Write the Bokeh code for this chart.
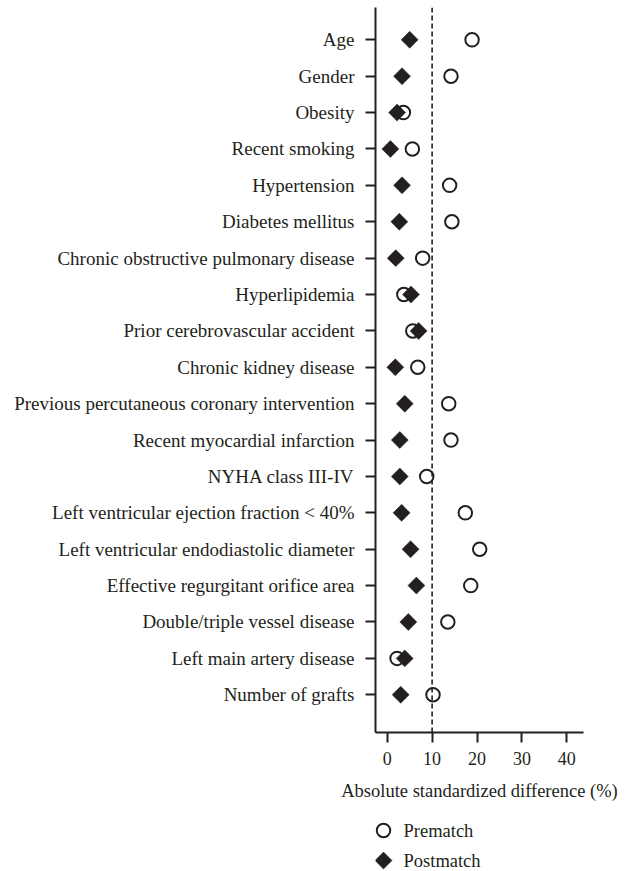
import numpy as np
from bokeh.plotting import figure
from bokeh.layouts import column
from bokeh.models import Range1d, FixedTicker, Span
from bokeh.core.properties import value
from bokeh.embed import file_html
from bokeh.resources import INLINE

# Covariates, top to bottom
covariates = [
    "Age",
    "Gender",
    "Obesity",
    "Recent smoking",
    "Hypertension",
    "Diabetes mellitus",
    "Chronic obstructive pulmonary disease",
    "Hyperlipidemia",
    "Prior cerebrovascular accident",
    "Chronic kidney disease",
    "Previous percutaneous coronary intervention",
    "Recent myocardial infarction",
    "NYHA class III-IV",
    "Left ventricular ejection fraction < 40%",
    "Left ventricular endodiastolic diameter",
    "Effective regurgitant orifice area",
    "Double/triple vessel disease",
    "Left main artery disease",
    "Number of grafts",
]

# Absolute standardized differences (%)
prematch = [18.9, 14.2, 3.6, 5.6, 13.9, 14.4, 7.9, 3.7, 5.7, 6.8,
            13.7, 14.2, 8.8, 17.4, 20.6, 18.6, 13.5, 2.2, 10.2]
postmatch = [5.0, 3.3, 2.2, 0.7, 3.3, 2.7, 1.9, 5.3, 7.0, 1.8,
             3.9, 2.8, 2.8, 3.2, 5.2, 6.5, 4.7, 3.9, 3.0]

x_ticks = [0, 10, 20, 30, 40]
threshold = 10
series_names = ["Prematch", "Postmatch"]

INK = "#231f20"
SERIF = "Liberation Serif"
W = 627
MAIN_H = 811
KEY_H = 60
BORDER_L = 375
BORDER_R = 44
FRAME_W = W - BORDER_L - BORDER_R

n = len(covariates)
ypos = [n - 1 - i for i in range(n)]

p = figure(
    width=W, height=MAIN_H,
    output_backend="svg", toolbar_location=None,
    x_range=Range1d(-2.61, 43.72),
    y_range=Range1d(-1.037, n - 1 + 0.888),
    min_border_left=BORDER_L, min_border_right=BORDER_R,
    min_border_top=7, min_border_bottom=79,
)
p.outline_line_color = None
p.background_fill_color = "white"
p.border_fill_color = "white"
p.xgrid.visible = False
p.ygrid.visible = False

# y axis: one tick per covariate
p.yaxis.ticker = FixedTicker(ticks=ypos)
p.yaxis.major_label_overrides = {y: lab for y, lab in zip(ypos, covariates)}
p.xaxis.ticker = FixedTicker(ticks=x_ticks)
p.xaxis.axis_label = "Absolute standardized difference (%)"

for ax in (p.xaxis, p.yaxis):
    ax.axis_line_color = INK
    ax.axis_line_width = 2
    ax.major_tick_line_color = INK
    ax.major_tick_line_width = 2
    ax.major_tick_out = 10
    ax.major_tick_in = 0
    ax.minor_tick_line_color = None
    ax.major_label_text_font = SERIF
    ax.major_label_text_color = INK

p.yaxis.major_label_standoff = 11
p.yaxis.major_label_text_font_size = "19px"
p.xaxis.major_label_standoff = 9
p.xaxis.major_label_text_font_size = "18px"
p.xaxis.axis_label_text_font = SERIF
p.xaxis.axis_label_text_font_size = "18.5px"
p.xaxis.axis_label_text_font_style = "normal"
p.xaxis.axis_label_text_color = INK
p.xaxis.axis_label_standoff = 13

# 10% reference line
p.add_layout(Span(location=threshold, dimension="height", line_color=INK,
                  line_width=1.6, line_dash="5 3"))

pre_style = dict(marker="circle", size=13.5, fill_color=None,
                 line_color=INK, line_width=2)
post_style = dict(marker="square", angle=np.pi / 4, size=12,
                  fill_color=INK, line_color=INK, line_width=0.5)

p.scatter(prematch, ypos, **pre_style)
p.scatter(postmatch, ypos, **post_style)

# Key panel below the chart; same side borders, pixel units across its frame
key = figure(
    width=W, height=KEY_H,
    output_backend="svg", toolbar_location=None,
    x_range=Range1d(0, FRAME_W), y_range=Range1d(KEY_H, 0),
    min_border_left=BORDER_L, min_border_right=BORDER_R,
    min_border_top=0, min_border_bottom=0,
)
key.axis.visible = False
key.grid.visible = False
key.outline_line_color = None
key.background_fill_color = "white"
key.border_fill_color = "white"

key_x = 8
key_rows = [19, 49]
key.scatter([key_x], [key_rows[0]], **pre_style)
key.scatter([key_x], [key_rows[1]], **post_style)
key.text([key_x + 20] * 2, key_rows, text=series_names,
         text_font=value(SERIF), text_font_size="18.5px",
         text_color=INK, text_baseline="middle", text_align="left")

layout = column(p, key, spacing=0)

open("out.html", "w").write(file_html(layout, INLINE))
